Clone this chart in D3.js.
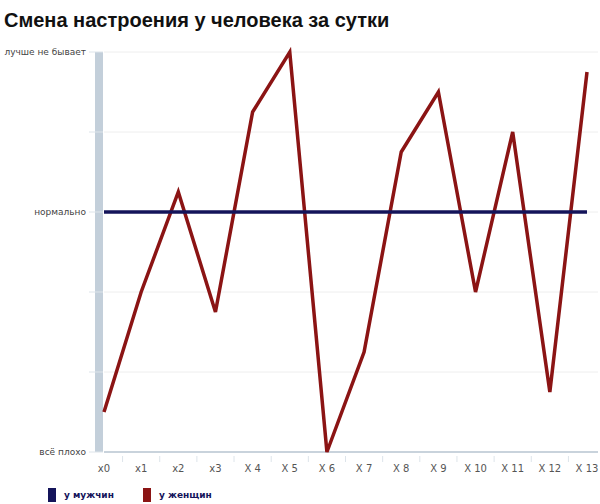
<!DOCTYPE html>
<html><head><meta charset="utf-8">
<script src="https://cdn.jsdelivr.net/npm/d3@7"></script>
<style>body{margin:0;background:#fff;font-family:"DejaVu Sans",sans-serif}</style>
</head><body>
<svg id="chart" width="600" height="504"></svg>
<script>
// data
var categories = ['x0','x1','x2','x3','X 4','X 5','X 6','X 7','X 8','X 9','X 10','X 11','X 12','X 13']
var women = [0.5, 2, 3.25, 1.75, 4.25, 5, 0, 1.25, 3.75, 4.5, 2, 4, 0.75, 4.75]
var men = categories.map(() => 3)
var yTickLabels = {5: 'лучше не бывает', 3: 'нормально', 0: 'всё плохо'}

var svg = d3.select('#chart')
var plotLeft = 104, plotRight = 587, plotTop = 52, plotBottom = 452

svg.append('text').attr('x', 4).attr('y', 27)
  .style('font-size', '20px').style('font-weight', 'bold').style('fill', '#111')
  .style('font-family', '"Liberation Sans", Arial, sans-serif')
  .text('Смена настроения у человека за сутки')

var xScale = d3.scalePoint().domain(categories).range([plotLeft, plotRight])
var yScale = d3.scaleLinear().domain([0, 5]).range([plotBottom, plotTop])

// grid
svg.append('g').selectAll('line').data(d3.range(0, 6)).enter().append('line')
  .attr('x1', plotLeft).attr('x2', 598)
  .attr('y1', d => yScale(d)).attr('y2', d => yScale(d))
  .style('stroke', d => d == 0 ? '#c9d3dc' : '#eeeeee')
  .style('stroke-width', d => d == 0 ? 2 : 1)

// left bar
svg.append('rect').attr('x', 95).attr('y', plotTop).attr('width', 8).attr('height', plotBottom - plotTop)
  .style('fill', '#c3cfda')

// y axis ticks + labels
var yAxis = svg.append('g').selectAll('g').data(d3.range(0, 6)).enter().append('g')
yAxis.append('line').attr('x1', 89).attr('x2', 103)
  .attr('y1', d => yScale(d)).attr('y2', d => yScale(d)).style('stroke', '#dde4ea')
yAxis.append('text').attr('x', 86).attr('y', d => yScale(d) + 3)
  .attr('text-anchor', 'end').style('font-size', '9px').style('fill', '#444')
  .text(d => yTickLabels[d] || '')

// x axis
var step = xScale.step()
svg.append('g').selectAll('line').data(categories).enter().append('line')
  .attr('x1', d => xScale(d) + step / 2).attr('x2', d => xScale(d) + step / 2)
  .attr('y1', plotBottom + 4).attr('y2', plotBottom + 10).style('stroke', '#dde4ea')
svg.append('g').selectAll('text').data(categories).enter().append('text')
  .attr('x', d => xScale(d)).attr('y', 472).attr('text-anchor', 'middle')
  .style('font-size', '10px').style('fill', '#555').text(d => d)

var line = d3.line().x((d, i) => xScale(categories[i])).y(d => yScale(d))
svg.append('path').datum(women).attr('d', line)
  .style('fill', 'none').style('stroke', '#8b1414').style('stroke-width', 3.5)
svg.append('path').datum(men).attr('d', line)
  .style('fill', 'none').style('stroke', '#14145a').style('stroke-width', 3.5)

// legend
var legend = [['у мужчин', '#14145a', 48], ['у женщин', '#8b1414', 143]]
legend.forEach(l => {
  svg.append('rect').attr('x', l[2]).attr('y', 488).attr('width', 8).attr('height', 14).style('fill', l[1])
  svg.append('text').attr('x', l[2] + 16).attr('y', 498).style('font-size', '9px')
    .style('font-weight', 'bold').style('fill', '#14145a').text(l[0])
})
</script>
</body></html>
